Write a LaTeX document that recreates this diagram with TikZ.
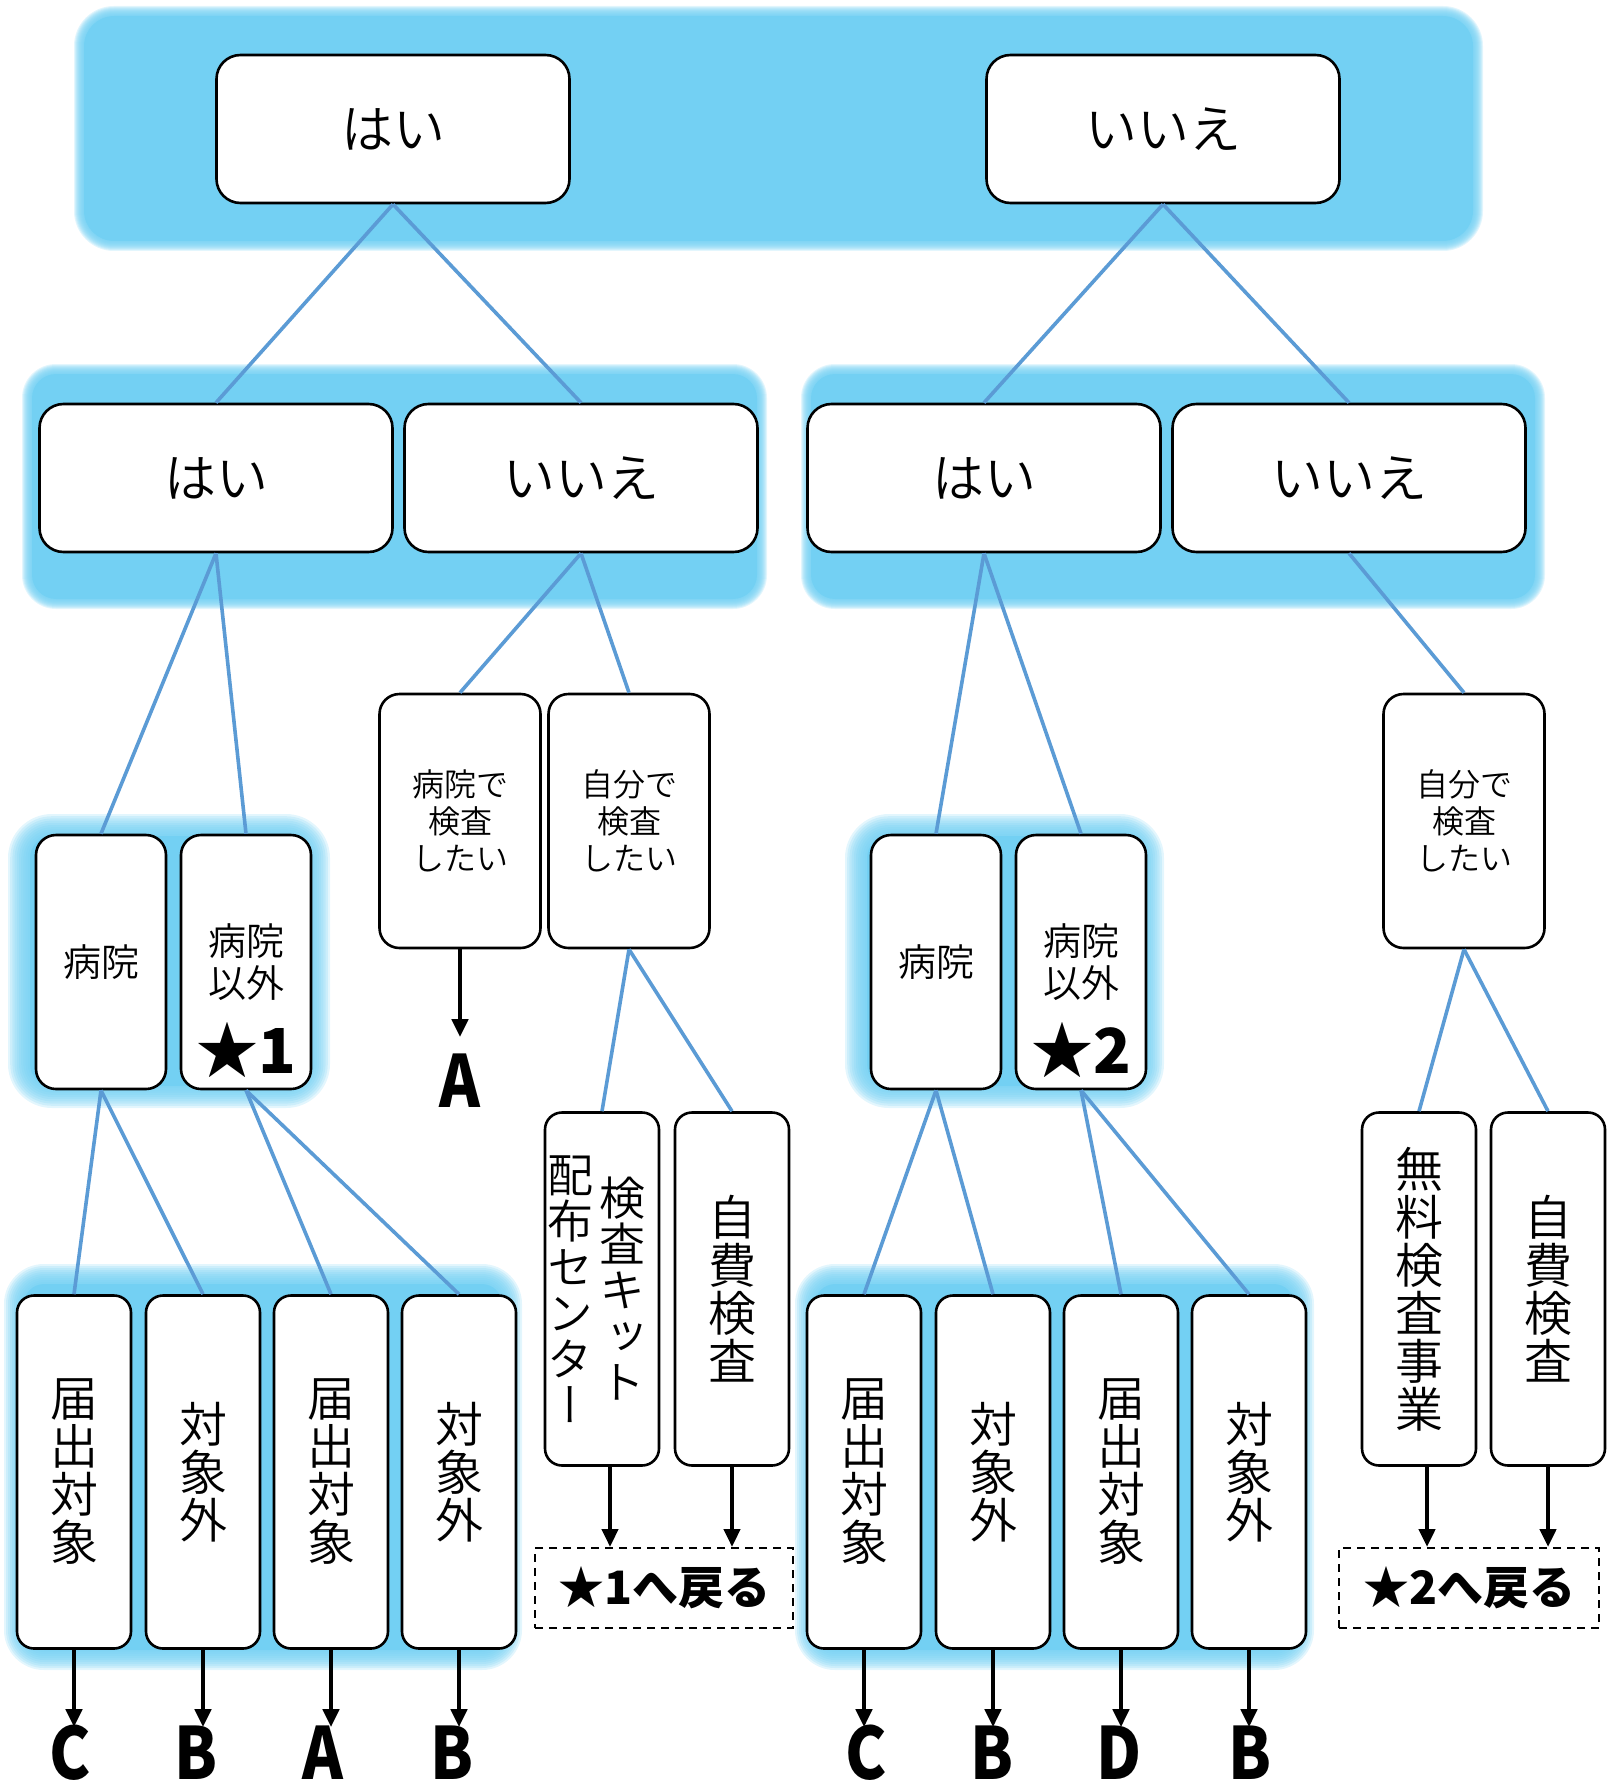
\documentclass[tikz,border=0pt]{standalone}
\usepackage{fontspec}
\usetikzlibrary{arrows.meta}
\IfFontExistsTF{Noto Sans CJK JP DemiLight}{\def\jpname{Noto Sans CJK JP DemiLight}}{%
	\IfFontExistsTF{Noto Sans CJK JP Light}{\def\jpname{Noto Sans CJK JP Light}}{\def\jpname{Noto Sans CJK JP}}}
\newfontfamily\jp{\jpname}
\newfontfamily\jpv[RawFeature=+vert]{\jpname}
\newfontfamily\jpb{Noto Sans CJK JP}
\newfontfamily\jpl[FakeStretch=0.86]{Noto Sans CJK JP}
\definecolor{bandblue}{RGB}{115,208,243}
\definecolor{linkblue}{RGB}{91,155,213}
\newcommand{\choicebox}[4][]{\node[choicebox,#1] at (#2) (#3) {#4}}
\newcommand{\glowband}[6]{%
	\foreach \e in {0,-0.1,...,-0.95}{
		\fill[bandblue, fill opacity=0.2, rounded corners={(#5+\e*#6)*0.5pt}]
			({#1-\e*#6},{#2-\e*#6}) rectangle ({#3+\e*#6},{#4+\e*#6});
	}%
	\fill[bandblue, rounded corners={(#5-#6)*0.5pt}]
		({#1+#6},{#2+#6}) rectangle ({#3-#6},{#4-#6});
}
\tikzset{
	choicebox/.style={draw=black, line width=1.3pt, fill=white, rounded corners=10pt, inner sep=0pt, align=center},
	yesnobox/.style={minimum width=176.5pt, minimum height=74pt, rounded corners=12pt, font=\jp\fontsize{26}{30}\selectfont},
	placebox/.style={minimum width=65pt, minimum height=127pt, font=\jp\fontsize{19}{21}\selectfont},
	wishbox/.style={minimum width=80.5pt, minimum height=127pt, font=\jp\fontsize{16}{18.5}\selectfont},
	resultbox/.style={minimum width=57pt, minimum height=176.5pt, rounded corners=8.5pt, font=\jpv\fontsize{24}{24}\selectfont},
	branch/.style={draw=linkblue, line width=1.8pt},
	goarrow/.style={-{Triangle[width=8pt,length=9pt]}, line width=2.2pt, black},
	returnbox/.style={draw=black, line width=1pt, dash pattern=on 4pt off 3pt, minimum width=129pt, minimum height=40pt, inner sep=0pt, font=\jpb\bfseries\fontsize{23}{23}\selectfont},
	starmark/.style={inner sep=0pt, font=\jpb\bfseries\fontsize{31}{31}\selectfont},
	endlabel/.style={inner sep=0pt, anchor=south, text height=26pt, text depth=0pt, font=\jpl\bfseries\fontsize{36}{36}\selectfont}
}
\begin{document}
\begin{tikzpicture}[x=0.5pt,y=-0.5pt]
	\useasboundingbox (0,0) rectangle (1613,1787);
	\glowband{74}{6}{1483}{251}{40}{10}
	\glowband{22}{364}{767}{609}{34}{10}
	\glowband{801}{364}{1545}{609}{34}{10}
	\glowband{8}{814}{330}{1108}{44}{22}
	\glowband{845}{814}{1164}{1108}{44}{22}
	\glowband{4}{1264}{522}{1670}{40}{20}
	\glowband{795}{1264}{1314}{1670}{40}{20}

	\choicebox[yesnobox]{393,129}{yes}{はい};
	\choicebox[yesnobox]{1163,129}{no}{いいえ};

	\choicebox[yesnobox]{216,478}{yesyes}{はい};
	\choicebox[yesnobox]{581,478}{yesno}{いいえ};
	\choicebox[yesnobox]{984,478}{noyes}{はい};
	\choicebox[yesnobox]{1349,478}{nono}{いいえ};

	\choicebox[placebox]{101,962}{hospA}{病院};
	\choicebox[placebox]{246,962}{otherA}{病院\\以外};
	\choicebox[wishbox]{460,821}{wishhosp}{病院で\\検査\\したい};
	\choicebox[wishbox]{629,821}{wishself}{自分で\\検査\\したい};
	\choicebox[placebox]{936,962}{hospB}{病院};
	\choicebox[placebox]{1081,962}{otherB}{病院\\以外};
	\choicebox[wishbox]{1464,821}{wishselfB}{自分で\\検査\\したい};

	\node[starmark] at (246,1050) (star1) {★1};
	\node[starmark] at (1081,1050) (star2) {★2};

	\choicebox[resultbox]{74,1472}{lA1}{届\\出\\対\\象};
	\choicebox[resultbox]{203,1472}{lA2}{対\\象\\外};
	\choicebox[resultbox]{331,1472}{lA3}{届\\出\\対\\象};
	\choicebox[resultbox]{459,1472}{lA4}{対\\象\\外};
	\choicebox[resultbox, font=\jpv\fontsize{23}{23}\selectfont]{602,1289}{kit}{\parbox[c]{23pt}{\centering 配\\布\\セ\\ン\\タ\\ー}\hspace{3pt}\parbox[c]{23pt}{\centering 検\\査\\キ\\ッ\\ト}\hspace{6pt}};
	\choicebox[resultbox]{732,1289}{paidA}{自\\費\\検\\査};
	\choicebox[resultbox]{864,1472}{lB1}{届\\出\\対\\象};
	\choicebox[resultbox]{993,1472}{lB2}{対\\象\\外};
	\choicebox[resultbox]{1121,1472}{lB3}{届\\出\\対\\象};
	\choicebox[resultbox]{1249,1472}{lB4}{対\\象\\外};
	\choicebox[resultbox]{1419,1289}{free}{無\\料\\検\\査\\事\\業};
	\choicebox[resultbox]{1548,1289}{paidB}{自\\費\\検\\査};

	\node[returnbox] at (664,1588) (ret1) {★1へ戻る};
	\node[returnbox, minimum width=130pt] at (1469,1588) (ret2) {★2へ戻る};

	\node[endlabel] at (460,1108) (resA) {A};
	\node[endlabel] at (70,1780) (outA1) {C};
	\node[endlabel] at (196,1780) (outA2) {B};
	\node[endlabel] at (323,1780) (outA3) {A};
	\node[endlabel] at (452,1780) (outA4) {B};
	\node[endlabel] at (866,1780) (outB1) {C};
	\node[endlabel] at (992,1780) (outB2) {B};
	\node[endlabel] at (1119,1780) (outB3) {D};
	\node[endlabel] at (1250,1780) (outB4) {B};

	\draw[branch] (yes.south) -- (yesyes.north);
	\draw[branch] (yes.south) -- (yesno.north);
	\draw[branch] (no.south) -- (noyes.north);
	\draw[branch] (no.south) -- (nono.north);

	\draw[branch] (yesyes.south) -- (hospA.north);
	\draw[branch] (yesyes.south) -- (otherA.north);
	\draw[branch] (yesno.south) -- (wishhosp.north);
	\draw[branch] (yesno.south) -- (wishself.north);
	\draw[branch] (noyes.south) -- (hospB.north);
	\draw[branch] (noyes.south) -- (otherB.north);
	\draw[branch] (nono.south) -- (wishselfB.north);

	\draw[branch] (hospA.south) -- (lA1.north);
	\draw[branch] (hospA.south) -- (lA2.north);
	\draw[branch] (otherA.south) -- (lA3.north);
	\draw[branch] (otherA.south) -- (lA4.north);
	\draw[branch] (wishself.south) -- (kit.north);
	\draw[branch] (wishself.south) -- (paidA.north);
	\draw[branch] (hospB.south) -- (lB1.north);
	\draw[branch] (hospB.south) -- (lB2.north);
	\draw[branch] (otherB.south) -- (lB3.north);
	\draw[branch] (otherB.south) -- (lB4.north);
	\draw[branch] (wishselfB.south) -- (free.north);
	\draw[branch] (wishselfB.south) -- (paidB.north);

	\draw[goarrow] (wishhosp.south) -- ([yshift=9pt]resA.north);
	\draw[goarrow] ([xshift=4pt]kit.south) -- ([xshift=4pt]kit.south |- ret1.north);
	\draw[goarrow] (paidA.south) -- (paidA.south |- ret1.north);
	\draw[goarrow] ([xshift=4pt]free.south) -- ([xshift=4pt]free.south |- ret2.north);
	\draw[goarrow] (paidB.south) -- (paidB.south |- ret2.north);

	\draw[goarrow] (lA1.south) -- (lA1.south |- outA1.north);
	\draw[goarrow] (lA2.south) -- (lA2.south |- outA2.north);
	\draw[goarrow] (lA3.south) -- (lA3.south |- outA3.north);
	\draw[goarrow] (lA4.south) -- (lA4.south |- outA4.north);
	\draw[goarrow] (lB1.south) -- (lB1.south |- outB1.north);
	\draw[goarrow] (lB2.south) -- (lB2.south |- outB2.north);
	\draw[goarrow] (lB3.south) -- (lB3.south |- outB3.north);
	\draw[goarrow] (lB4.south) -- (lB4.south |- outB4.north);
\end{tikzpicture}
\end{document}
